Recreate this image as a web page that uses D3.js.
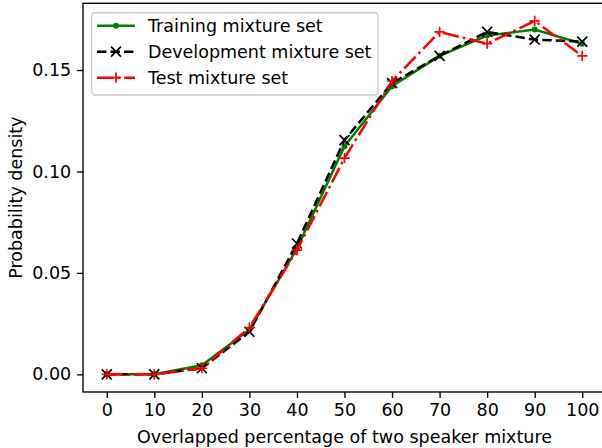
<!DOCTYPE html>
<html>
<head>
<meta charset="utf-8">
<script src="https://cdn.jsdelivr.net/npm/d3@7"></script>
<style>
  body { margin: 0; background: #fff; }
  svg text { font-family: "DejaVu Sans", sans-serif; }
</style>
</head>
<body>
<script>
var overlap = [0, 10, 20, 30, 40, 50, 60, 70, 80, 90, 100];
var training = [0, 0, 0.0045, 0.022, 0.062, 0.1125, 0.142, 0.157, 0.167, 0.170, 0.163];
var development = [0, 0, 0.003, 0.021, 0.0645, 0.1155, 0.1436, 0.157, 0.1688, 0.165, 0.164];
var test = [0, 0, 0.003, 0.023, 0.0612, 0.1066, 0.1446, 0.1688, 0.163, 0.1742, 0.157];
var yTicks = [0, 0.05, 0.10, 0.15];
var seriesNames = ["Training mixture set", "Development mixture set", "Test mixture set"];

var width = 602,
    height = 448,
    margin = {top: 3.3, right: -4, bottom: 56, left: 83};

var fontSize = "17.5px";

var svg = d3.select("body").append("svg")
    .attr("width", width)
    .attr("height", height);

var x = d3.scaleLinear()
    .domain([-5, 105])
    .range([margin.left, width - margin.right]);

var y = d3.scaleLinear()
    .domain([-0.00871, 0.18291])
    .range([height - margin.bottom, margin.top]);

var series = [
  {name: seriesNames[0], values: training, color: "#008000", dash: null, marker: "dot"},
  {name: seriesNames[1], values: development, color: "#000000", dash: "9.4,4.1", marker: "x"},
  {name: seriesNames[2], values: test, color: "#ff0000", dash: "16.3,4.1,2.6,4.1", marker: "plus"}
];

var line = d3.line()
    .x(function(d) { return x(d[0]); })
    .y(function(d) { return y(d[1]); });

function drawMarker(g, type, color) {
  if (type === "dot") {
    g.append("circle").attr("r", 3).attr("fill", color);
  } else if (type === "x") {
    g.append("path").attr("d", "M-5,-5L5,5M-5,5L5,-5")
      .attr("stroke", color).attr("stroke-width", 1.7).attr("fill", "none");
  } else {
    g.append("path").attr("d", "M-5.1,0L5.1,0M0,-5.1L0,5.1")
      .attr("stroke", color).attr("stroke-width", 1.7).attr("fill", "none");
  }
}

var plot = svg.append("g");

series.forEach(function(s) {
  var pts = overlap.map(function(v, i) { return [v, s.values[i]]; });
  plot.append("path")
      .datum(pts)
      .attr("d", line)
      .attr("fill", "none")
      .attr("stroke", s.color)
      .attr("stroke-width", 2.5)
      .attr("stroke-dasharray", s.dash);
  pts.forEach(function(p) {
    var m = plot.append("g").attr("transform", "translate(" + x(p[0]) + "," + y(p[1]) + ")");
    drawMarker(m, s.marker, s.color);
  });
});

// axes
var xAxis = svg.append("g")
    .attr("transform", "translate(0," + (height - margin.bottom) + ")")
    .call(d3.axisBottom(x).tickValues(overlap).tickSize(5.9).tickPadding(5.2).tickFormat(d3.format("d")));

var yAxis = svg.append("g")
    .attr("transform", "translate(" + margin.left + ",0)")
    .call(d3.axisLeft(y).tickValues(yTicks).tickSize(5.9).tickPadding(5.9).tickFormat(d3.format(".2f")));

[xAxis, yAxis].forEach(function(a) {
  a.select(".domain").remove();
  a.selectAll(".tick line").attr("stroke", "#000").attr("stroke-width", 1.36);
  a.selectAll(".tick text").attr("fill", "#000").style("font-size", fontSize);
});

// frame
svg.append("rect")
    .attr("x", margin.left)
    .attr("y", margin.top)
    .attr("width", x(105) - margin.left)
    .attr("height", y(-0.00871) - margin.top)
    .attr("fill", "none")
    .attr("stroke", "#000")
    .attr("stroke-width", 1.36);

svg.append("text")
    .attr("x", x(50))
    .attr("y", 443)
    .attr("text-anchor", "middle")
    .style("font-size", fontSize)
    .text("Overlapped percentage of two speaker mixture");

svg.append("text")
    .attr("transform", "translate(21.5," + ((margin.top + height - margin.bottom) / 2) + ") rotate(-90)")
    .attr("text-anchor", "middle")
    .style("font-size", fontSize)
    .text("Probability density");

// legend
var legend = svg.append("g");
legend.append("rect")
    .attr("x", 91.7).attr("y", 12.7)
    .attr("width", 286.3).attr("height", 82.3)
    .attr("rx", 3.5)
    .attr("fill", "#fff").attr("fill-opacity", 0.8)
    .attr("stroke", "#ccc").attr("stroke-width", 1.36);

series.forEach(function(s, i) {
  var ly = 25.7 + i * 26;
  legend.append("line")
      .attr("x1", 97).attr("x2", 135)
      .attr("y1", ly).attr("y2", ly)
      .attr("stroke", s.color).attr("stroke-width", 2.5)
      .attr("stroke-dasharray", s.dash);
  drawMarker(legend.append("g").attr("transform", "translate(116," + ly + ")"), s.marker, s.color);
  legend.append("text")
      .attr("x", 148).attr("y", ly)
      .attr("dy", "0.36em")
      .style("font-size", fontSize)
      .text(s.name);
});
</script>
</body>
</html>
